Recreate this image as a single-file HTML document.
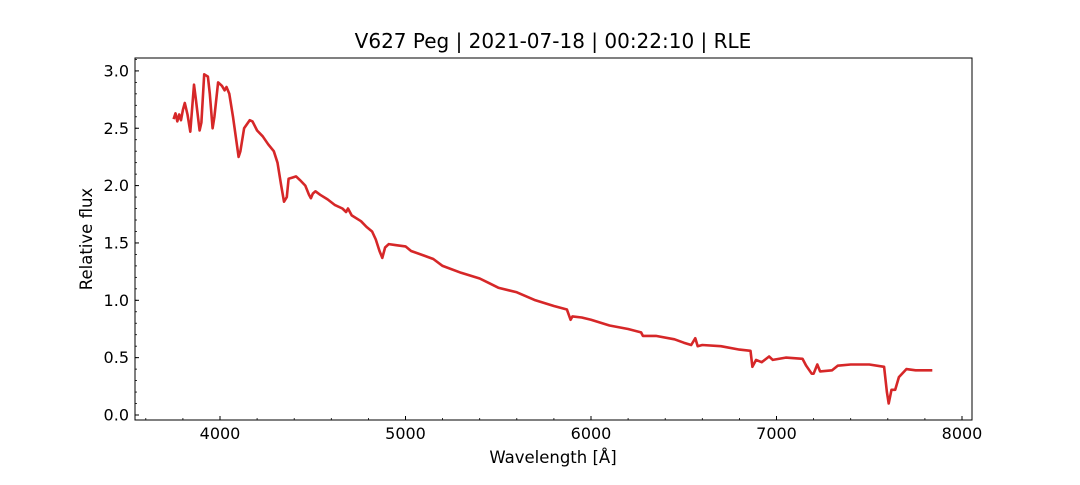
<!DOCTYPE html>
<html><head><meta charset="utf-8"><style>
body{margin:0;background:#fff;font-family:"Liberation Sans","DejaVu Sans",sans-serif}
</style></head><body>
<svg id="chart" width="1080" height="480" xmlns="http://www.w3.org/2000/svg" font-family="DejaVu Sans, Liberation Sans, sans-serif">
<rect width="1080" height="480" fill="#fff"/>
<text x="553" y="48" text-anchor="middle" font-size="20">V627 Peg | 2021-07-18 | 00:22:10 | RLE</text>
<g id="axes"></g>
<text x="553" y="463" text-anchor="middle" font-size="16.5">Wavelength [Å]</text>
<text x="92" y="239" text-anchor="middle" font-size="16.5" transform="rotate(-90 92 239)">Relative flux</text>
</svg>
<script>
const wavelengths=[3750,3760,3770,3780,3790,3800,3810,3825,3840,3860,3870,3890,3900,3915,3935,3945,3960,3970,3990,4010,4025,4035,4050,4070,4100,4110,4130,4160,4175,4200,4230,4260,4290,4310,4330,4345,4360,4370,4390,4410,4430,4460,4480,4490,4500,4515,4540,4580,4620,4660,4680,4690,4710,4760,4790,4820,4840,4860,4875,4890,4910,4950,5000,5030,5100,5150,5200,5300,5400,5450,5500,5600,5700,5800,5870,5890,5900,5950,6000,6100,6200,6270,6280,6350,6450,6500,6540,6562,6575,6600,6700,6800,6860,6870,6890,6920,6960,6980,7050,7140,7160,7190,7200,7220,7235,7300,7330,7400,7500,7580,7595,7605,7620,7640,7660,7700,7750,7840];
const fluxes=[2.58,2.63,2.56,2.62,2.57,2.66,2.72,2.62,2.47,2.88,2.75,2.48,2.55,2.97,2.95,2.80,2.50,2.60,2.90,2.87,2.83,2.86,2.80,2.60,2.25,2.30,2.50,2.57,2.56,2.48,2.43,2.36,2.30,2.20,2.00,1.86,1.90,2.06,2.07,2.08,2.05,2.00,1.92,1.89,1.93,1.95,1.92,1.88,1.83,1.80,1.77,1.80,1.74,1.69,1.64,1.60,1.53,1.43,1.37,1.46,1.49,1.48,1.47,1.43,1.39,1.36,1.30,1.24,1.19,1.15,1.11,1.07,1.00,0.95,0.92,0.83,0.86,0.85,0.83,0.78,0.75,0.72,0.69,0.69,0.66,0.63,0.61,0.67,0.60,0.61,0.60,0.57,0.56,0.42,0.48,0.46,0.51,0.48,0.50,0.49,0.43,0.36,0.36,0.44,0.38,0.39,0.43,0.44,0.44,0.42,0.20,0.10,0.22,0.22,0.33,0.40,0.39,0.39];
const xTicks=[4000,5000,6000,7000,8000];
const yTicks=[0.0,0.5,1.0,1.5,2.0,2.5,3.0];
const L=135,R=972,T=58,B=420;
const xS=v=>220+(v-4000)*0.1855;
const yS=v=>415-v*114.7;
const NS="http://www.w3.org/2000/svg";
const g=document.getElementById('axes');
function mk(t,a){const e=document.createElementNS(NS,t);for(const k in a)e.setAttribute(k,a[k]);g.appendChild(e);return e;}
for(let v=3600;v<=8000;v+=200){const x=xS(v);if(x<L||x>R)continue;
const m=mk('line',{x1:x,x2:x,y1:B,y2:B-2,stroke:'#000','stroke-width':0.8});

}
for(let i=0;i<=31;i++){const v=i/10;const y=yS(v);if(y<T||y>B)continue;
const m=mk('line',{x1:L,x2:L+2,y1:y,y2:y,stroke:'#000','stroke-width':0.8});

}
xTicks.forEach(v=>{const x=xS(v);
const t=mk('line',{x1:x,x2:x,y1:B,y2:B-4,stroke:'#000','stroke-width':1});


const l=mk('text',{x:x,y:B+19,'text-anchor':'middle','font-size':16});l.textContent=v;

});
yTicks.forEach(v=>{const y=yS(v);
const t=mk('line',{x1:L,x2:L+4,y1:y,y2:y,stroke:'#000','stroke-width':1});


const l=mk('text',{x:L-6,y:y+5.5,'text-anchor':'end','font-size':16});l.textContent=v.toFixed(1);

});
const p=mk('polyline',{points:wavelengths.map((w,i)=>xS(w).toFixed(1)+','+yS(fluxes[i]).toFixed(1)).join(' '),fill:'none',stroke:'#d62728','stroke-width':2.6,'stroke-linejoin':'round'});


const f=mk('rect',{x:L,y:T,width:R-L,height:B-T,fill:'none',stroke:'#000','stroke-width':1});


</script>
</body></html>
